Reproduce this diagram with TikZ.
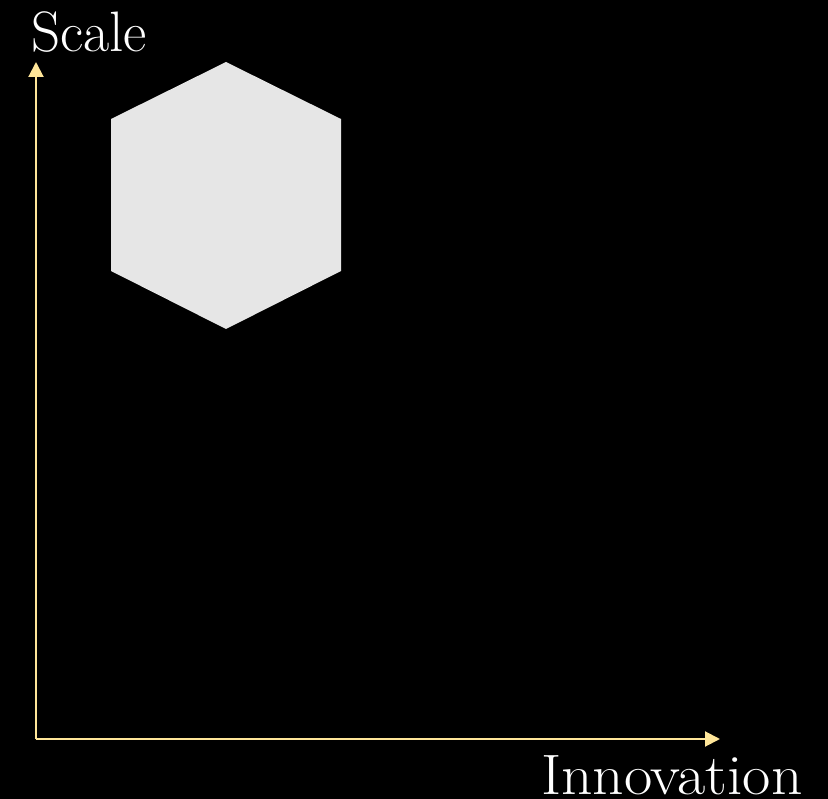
\documentclass[tikz,border=0pt]{standalone}
\usetikzlibrary{arrows.meta}
\definecolor{axiscol}{HTML}{FFE699}
\definecolor{hexcol}{HTML}{E6E6E6}
\tikzset{
  axis/.style={draw=axiscol, line width=2pt, -{Triangle[length=15pt,width=15pt]}},
  label/.style={text=white, inner sep=0pt, outer sep=0pt, font=\fontsize{57}{60}\selectfont},
  hexfill/.style={fill=hexcol, draw=none}
}
\begin{document}
\begin{tikzpicture}[x=1pt,y=-1pt]
  \fill[black] (0,0) rectangle (828,799);
  \useasboundingbox (0,0) rectangle (828,799);
  \coordinate (origin) at (36,739);
  \coordinate (ytip) at (36,62);
  \coordinate (xtip) at (720,739);
  \draw[axis] (origin) -- (ytip);
  \draw[axis] (origin) -- (xtip);
  \fill[hexfill] (226,62) -- (341,119) -- (341,271) -- (226,329) -- (111,271) -- (111,119) -- cycle;
  \node[label, anchor=base west] (scale) at (31,52) {Scale};
  \node[label, anchor=base west] (innov) at (541,794) {\scalebox{1.08}[1]{Innovation}};
\end{tikzpicture}
\end{document}
